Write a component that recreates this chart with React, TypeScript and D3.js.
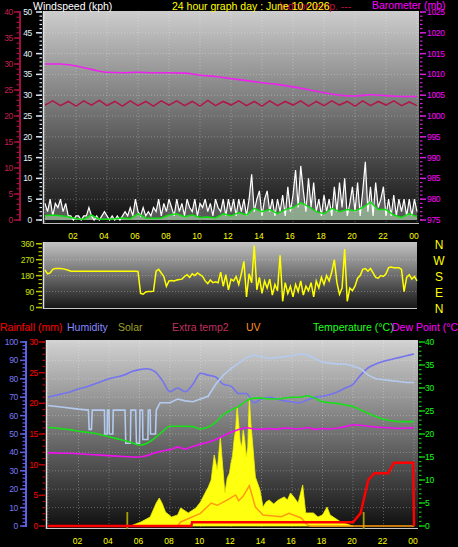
import React from "react";
import * as d3 from "d3";

// ---------- DATA ----------
const xTickHours = [2, 4, 6, 8, 10, 12, 14, 16, 18, 20, 22, 24];
const xTickLabels = ["02", "04", "06", "08", "10", "12", "14", "16", "18", "20", "22", "00"];
const dirLabels = ["N", "W", "S", "E", "N"];

// wind gust, 10-minute samples (kph)
const windGust = [4,2,5,1,4,3,5,2,4,1,
  1,0,1,1,0,1,1,
  3,
  1,0,1,0,1,2,1,0,1,0,1,0,1,
  2,1,3,1,5,2,1,3,1,2,1,3,
  2,5,1,4,2,5,3,1,5,2,4,1,5,3,2,5,1,4,3,5,2,4,1,5,3,2,
  5,1,5,2,5,1,5,2,5,1,5,
  11,
  2,5,7,1,5,7,2,5,1,5,2,6,1,
  8,2,6,12,3,13,7,2,10,3,9,2,
  5,1,6,2,5,1,
  8,2,9,3,10,1,4,8,2,9,1,7,14,2,8,1,9,3,5,8,1,
  5,1,6,1,5,2,5,1,5,1,5,2];

// average wind, half-hourly (kph)
const windAvg = [1.0,1.2,1.0,0.8,0.3,0.2,1.2,0.2,0.2,0.3,
  0.5,0.3,1.5,0.5,0.4,0.5,1.2,1.5,0.8,1.2,
  0.6,0.7,0.5,1.5,1.0,1.8,1.2,2.8,2.0,2.5,
  1.5,2.5,3.0,4.2,3.2,2.0,1.5,2.8,2.0,2.5,
  2.2,3.0,4.3,2.5,2.5,1.2,0.6,1.5,0.8];

// barometer, hourly (mb)
const barometer = [1012.5,1012.5,1012.0,1011.2,1010.5,1010.4,1010.5,1010.4,1010.4,1010.3,
  1009.8,1009.5,1009.0,1008.5,1008.0,1007.6,1007.0,1006.3,1005.6,1005.0,
  1004.8,1005.1,1004.9,1004.7,1004.7];

// extra temp2, half-hourly (°C)
const extraTemp2 = [22.1,22.9,22.0,22.8,21.9,22.9,22.1,23.0,22.0,22.8,
  21.9,22.9,22.0,22.8,21.9,22.9,22.1,22.9,22.0,22.8,
  21.9,23.0,22.0,22.8,22.1,22.9,22.0,22.8,21.9,22.9,
  22.0,22.8,22.1,22.9,21.9,22.8,22.0,22.9,22.1,22.8,
  21.9,22.9,22.0,22.8,22.1,22.9,22.0,22.7,22.0];

// wind direction, 10-minute samples (deg)
const windDir = [212,190,195,215,
  220,220,220,218,215,210,
  205,205,205,205,205,205,205,205,205,205,205,205,205,205,205,205,205,205,205,205,205,205,205,205,205,205,
  203,
  80,
  75,88,90,90,
  92,205,215,195,175,120,
  150,152,150,155,158,160,
  175,185,170,190,180,195,185,175,
  150,135,155,140,145,140,
  200,120,185,100,160,150,175,130,190,
  260,60,190,140,350,100,170,80,150,110,160,70,130,95,295,35,140,80,120,60,
  130,90,150,70,120,95,140,60,150,110,170,130,180,150,200,270,140,75,110,330,
  35,110,95,120,165,180,215,220,205,220,195,170,165,180,175,190,225,228,225,225,
  225,215,90,170,185,160,175,150];

// humidity, half-hourly (%)
const humidity = [70,71,72,73,74.5,75.5,77,78.5,80,81,
  82,84,85,85.5,84,79,73,75,73,77,
  83,82,81,77,76,72,72,67,69,70,
  69,68,67.5,67,68.5,70,70.5,71.5,73,75,
  77,82,86,88,89.5,90.5,91.5,92.5,93.5];

// second humidity trace (%), irregular times
const humidity2Hours = [0,1,2,2.65,2.7,2.85,2.9,3.7,3.72,3.88,3.9,4.0,4.02,4.25,4.28,5.05,5.1,5.4,5.43,5.75,5.8,6.0,6.03,6.2,6.22,6.55,6.58,6.7,6.72,7.05,7.1,7.35,8,8.5,9,9.5,10,10.5,11,11.5,12,12.5,13,13.5,14,14.5,15,15.5,16,16.5,17,17.5,18,18.5,19,19.5,20,20.5,21,21.5,22,22.5,23,23.5,24];
const humidity2Values = [65.5,64.5,63.5,63,52.5,52.5,63,63,50,50,63,63,50,50,63,63,45,45,63,63,45,45,63,63,47,47,63,63,50,50,63,67,67,69,68,67.5,69,70.5,77,82,85.5,88.5,91.5,93,92,91,91.5,92,92.5,93.5,93,91,89,88.5,88,88,87,85.5,82,80,79.5,79,78.5,78,78];

// temperature, half-hourly (°C)
const temperature = [21.4,21.3,21.1,20.9,20.6,20.4,20.2,19.8,19.4,19.0,
  18.6,18.1,17.6,18.0,19.1,20.5,21.7,21.7,21.7,21.6,
  21.1,21.5,22.6,24.2,25.2,26,27.2,27.8,27.8,27.6,
  27.6,27.8,28.0,28.0,28.3,27.8,27.0,26.8,26.6,26.3,
  26.0,25.2,24.5,23.8,23.2,22.9,22.7,22.7,22.7];

// dew point, half-hourly (°C)
const dewPoint = [15.9,15.9,15.8,15.8,15.7,15.6,15.5,15.4,15.3,15.2,
  15.1,15.0,15.0,15.3,15.9,16.3,16.6,17.2,16.7,17.3,
  17.8,18.2,18.8,19.6,20.4,21.0,21.4,21.1,21.0,21.2,
  21.0,21.3,21.2,21.1,21.4,21.0,21.2,21.1,21.3,21.6,
  22.0,21.9,21.7,21.5,21.4,21.3,21.2,21.3,21.3];

// rainfall (mm)
const rainHours = [0,9.4,9.45,20.0,20.5,21.0,21.4,22.3,22.7,23.95,24];
const rainValues = [0,0,0.6,0.6,2.1,7.5,8.6,8.6,10.3,10.3,0];

// solar (W/m²)
const solarHours = [5.4,6.1,6.7,7.1,7.3,7.5,7.7,8.1,8.5,8.7,9.2,9.7,10.0,10.3,10.5,10.7,10.9,11.1,11.3,11.45,11.6,11.75,11.9,12.0,12.1,12.2,12.3,12.4,12.5,12.6,12.7,12.8,12.9,13.0,13.1,13.2,13.3,13.4,13.6,13.9,14.1,14.3,14.5,14.8,15.1,15.3,15.5,15.7,15.9,16.1,16.4,16.7,16.9,17.4,17.7,18.0,18.3,18.5,19.2,19.8,20.0];
const solarValues = [0,22,49,125,152,120,76,49,60,98,71,98,130,179,210,250,386,304,484,330,179,260,288,342,380,467,520,647,560,460,430,522,470,375,430,701,560,467,266,196,103,130,141,120,141,150,158,141,179,160,125,223,71,71,49,60,103,60,22,5,0];

// UV index
const uvHours = [8.5,8.7,10.0,10.7,11.1,11.8,12.3,12.5,12.8,13.2,13.6,14.1,15.3,15.8,16.6,17.0,17.2,24];
const uvValues = [0,0.35,1.1,2.0,1.8,2.3,2.7,2.2,2.6,3.5,1.65,0.96,0.8,1.1,0.7,0.1,0,0];

// sunrise / sunset markers (hours)
const sunMarks = [5.2, 20.7];

// ---------- HELPERS ----------
const FONT = "'Liberation Sans', Arial, sans-serif";
const idxHours = (arr: number[]) => arr.map((_, i) => (i * 24) / (arr.length - 1));

type AxisProps = {
  scale: d3.ScaleLinear<number, number>;
  x: number; dir: number; minor: number; major: number;
  color: string; labelColor: string; line?: boolean; labelX: number; anchor: string;
  dotted?: boolean;
};
function VAxis({ scale, x, dir, minor, major, color, labelColor, line, labelX, anchor, dotted }: AxisProps) {
  const [d0, d1] = scale.domain();
  const minors = d3.range(d0, d1 + 1e-6, minor);
  const majors = d3.range(d0, d1 + 1e-6, major);
  return (
    <g>
      {line && <line x1={x} x2={x} y1={scale(d0) + 1} y2={scale(d1) - 1} stroke={color} strokeWidth={2} />}
      {minors.map((v, i) => (
        <line key={"m" + i} x1={x} x2={x + dir * (dotted ? 2.5 : 3.5)} y1={scale(v)} y2={scale(v)} stroke={color} strokeWidth={1.2} />
      ))}
      {majors.map((v, i) => (
        <g key={"M" + i}>
          <line x1={x} x2={x + dir * 6} y1={scale(v)} y2={scale(v)} stroke={color} strokeWidth={1.5} />
          <text x={labelX} y={scale(v) + 3} fill={labelColor} fontSize={8.5} fontFamily={FONT} textAnchor={anchor} letterSpacing={-0.3}>{v}</text>
        </g>
      ))}
    </g>
  );
}

export default function App() {
  const xTop = d3.scaleLinear().domain([0, 24]).range([45, 417]);
  const xBot = d3.scaleLinear().domain([0, 24]).range([48, 414]);
  const yWind = d3.scaleLinear().domain([0, 50]).range([220, 12]);
  const yET2 = d3.scaleLinear().domain([0, 40]).range([220, 12]);
  const yBaro = d3.scaleLinear().domain([975, 1025]).range([220, 12]);
  const yDir = d3.scaleLinear().domain([0, 360]).range([307.5, 243.7]);
  const yHum = d3.scaleLinear().domain([0, 100]).range([526, 342]);
  const yRain = d3.scaleLinear().domain([0, 30]).range([526, 342]);
  const yTemp = d3.scaleLinear().domain([0, 40]).range([526, 342]);
  const ySolar = d3.scaleLinear().domain([0, 1000]).range([526, 342]);
  const yUV = d3.scaleLinear().domain([0, 16]).range([526, 342]);

  const mk = (xs: d3.ScaleLinear<number, number>, ys: d3.ScaleLinear<number, number>, hrs: number[], vals: number[]) =>
    d3.line<number>().x((_, i) => xs(hrs[i])).y((v) => ys(v))(vals) || "";

  const gustH = idxHours(windGust);
  const gustPath = mk(xTop, yWind, gustH, windGust);
  const gustArea = d3.area<number>().x((_, i) => xTop(gustH[i])).y0(yWind(0)).y1((v) => yWind(v))(windGust) || "";
  const avgPath = mk(xTop, yWind, idxHours(windAvg), windAvg);
  const avgH = idxHours(windAvg);
  const avgArea = d3.area<number>().x((_, i) => xTop(avgH[i])).y0(yWind(0)).y1((v) => yWind(v))(windAvg) || "";
  const baroPath = d3.line<number>().x((_, i) => xTop(idxHours(barometer)[i])).y((v) => yBaro(v)).curve(d3.curveMonotoneX)(barometer) || "";
  const et2Path = mk(xTop, yET2, idxHours(extraTemp2), extraTemp2);
  const dirPath = mk(xTop, yDir, idxHours(windDir), windDir);

  const humPath = d3.line<number>().x((_, i) => xBot(idxHours(humidity)[i])).y((v) => yHum(v)).curve(d3.curveMonotoneX)(humidity) || "";
  const hum2Path = mk(xBot, yHum, humidity2Hours, humidity2Values);
  const tempPath = d3.line<number>().x((_, i) => xBot(idxHours(temperature)[i])).y((v) => yTemp(v)).curve(d3.curveMonotoneX)(temperature) || "";
  const dewPath = mk(xBot, yTemp, idxHours(dewPoint), dewPoint);
  const rainPath = mk(xBot, yRain, rainHours, rainValues);
  const solarArea = d3.area<number>().x((_, i) => xBot(solarHours[i])).y0(ySolar(0)).y1((v) => ySolar(v))(solarValues) || "";
  const uvPath = mk(xBot, yUV, uvHours, uvValues);

  const gridStyle = { stroke: "#ffffff", strokeOpacity: 0.28, strokeDasharray: "1 2", strokeWidth: 1 };

  return (
    <svg width={458} height={547} style={{ position: "absolute", left: 0, top: 0, background: "#000" }}>
      <defs>
        <linearGradient id="gTop" x1="0" y1="0" x2="0" y2="1">
          <stop offset="0" stopColor="#cdcdcd" />
          <stop offset="1" stopColor="#0e0e0e" />
        </linearGradient>
        <linearGradient id="gMid" x1="0" y1="0" x2="0" y2="1">
          <stop offset="0" stopColor="#c4c4c4" />
          <stop offset="1" stopColor="#141414" />
        </linearGradient>
        <linearGradient id="gBot" x1="0" y1="0" x2="0" y2="1">
          <stop offset="0" stopColor="#d2d2d2" />
          <stop offset="1" stopColor="#0e0e0e" />
        </linearGradient>
      </defs>
      <rect x={0} y={0} width={458} height={547} fill="#000" />

      {/* ---------- TOP PANEL ---------- */}
      <rect x={43} y={11} width={376} height={213} fill="url(#gTop)" />
      {d3.range(5, 50, 5).map((v) => (
        <line key={"th" + v} x1={43} x2={419} y1={yWind(v)} y2={yWind(v)} {...gridStyle} />
      ))}
      {d3.range(0, 25, 2).map((h) => (
        <line key={"tv" + h} x1={xTop(h)} x2={xTop(h)} y1={11} y2={224} {...gridStyle} />
      ))}
      <line x1={43.5} x2={43.5} y1={11} y2={224} stroke="#e0e0e0" strokeWidth={1.5} />
      <line x1={43} x2={419} y1={223.5} y2={223.5} stroke="#bdbdbd" strokeWidth={1} />

      <path d={baroPath} fill="none" stroke="#ee22ee" strokeWidth={1.6} />
      <path d={et2Path} fill="none" stroke="#b01848" strokeWidth={1.6} />
      <path d={gustArea} fill="#d8d8d8" fillOpacity={0.35} />
      <path d={avgArea} fill="#b8e8b8" fillOpacity={0.55} />
      <path d={gustPath} fill="none" stroke="#ffffff" strokeWidth={1.2} />
      <path d={avgPath} fill="none" stroke="#10e010" strokeWidth={1.5} />

      <VAxis scale={yET2} x={20} dir={-1} minor={1} major={5} color="#a01040" labelColor="#c02050" line labelX={13} anchor="end" />
      <VAxis scale={yWind} x={42} dir={-1} minor={1} major={5} color="#d8e8f8" labelColor="#e4f2ff" labelX={32} anchor="end" dotted />
      <VAxis scale={yBaro} x={420} dir={1} minor={1} major={5} color="#d020d0" labelColor="#ff00ff" labelX={427} anchor="start" dotted />

      <text x={33} y={10} fill="#ffffff" fontSize={10.5} fontFamily={FONT}>Windspeed (kph)</text>
      <text x={279} y={10} fill="#c01040" fontSize={10.5} fontFamily={FONT}>Indoor temp. ---</text>
      <text x={172} y={10} fill="#ffff00" fontSize={10.5} fontFamily={FONT}>24 hour graph day : June 10 2026</text>
      <text x={372} y={9} fill="#ff00ff" fontSize={10.5} fontFamily={FONT}>Barometer (mb)</text>

      {xTickHours.map((h, i) => (
        <text key={"xt" + h} x={xTop(h) - 3} y={239} fill="#ffff00" fontSize={8.5} fontFamily={FONT} textAnchor="middle">{xTickLabels[i]}</text>
      ))}

      {/* ---------- MIDDLE PANEL ---------- */}
      <rect x={43} y={242} width={374} height={67} fill="url(#gMid)" />
      {[90, 180, 270].map((v) => (
        <line key={"mh" + v} x1={43} x2={417} y1={yDir(v)} y2={yDir(v)} {...gridStyle} />
      ))}
      <line x1={43.5} x2={43.5} y1={242} y2={309} stroke="#e0e0e0" strokeWidth={1.5} />
      <line x1={43} x2={417} y1={308.5} y2={308.5} stroke="#c8c8c8" strokeWidth={1} />
      <path d={dirPath} fill="none" stroke="#ffff00" strokeWidth={1.5} />
      <VAxis scale={yDir} x={42} dir={-1} minor={22.5} major={90} color="#b8c800" labelColor="#c8e000" labelX={34} anchor="end" />
      {dirLabels.map((t, i) => (
        <text key={"nw" + i} x={439} y={yDir(360 - i * 90) + 5} fill="#ffff00" fontSize={12} fontFamily={FONT} textAnchor="middle">{t}</text>
      ))}

      {/* ---------- BOTTOM PANEL ---------- */}
      <text x={0} y={331} fill="#ff0000" fontSize={10.5} fontFamily={FONT}>Rainfall (mm)</text>
      <text x={67} y={331} fill="#8888ff" fontSize={10.5} fontFamily={FONT}>Humidity</text>
      <text x={118} y={331} fill="#a0a028" fontSize={10.5} fontFamily={FONT}>Solar</text>
      <text x={172} y={331} fill="#c03060" fontSize={10.5} fontFamily={FONT}>Extra temp2</text>
      <text x={246} y={331} fill="#ff9020" fontSize={10.5} fontFamily={FONT}>UV</text>
      <text x={313} y={331} fill="#20ff20" fontSize={10.5} fontFamily={FONT}>Temperature (°C)</text>
      <text x={392} y={331} fill="#ff00ff" fontSize={10.5} fontFamily={FONT}>Dew Point (°C)</text>

      <rect x={46} y={340} width={372} height={189} fill="url(#gBot)" />
      {d3.range(10, 101, 10).map((v) => (
        <line key={"bh" + v} x1={46} x2={418} y1={yHum(v)} y2={yHum(v)} {...gridStyle} />
      ))}
      {d3.range(0, 25, 2).map((h) => (
        <line key={"bv" + h} x1={xBot(h)} x2={xBot(h)} y1={340} y2={529} {...gridStyle} />
      ))}
      <line x1={46.5} x2={46.5} y1={340} y2={529} stroke="#e0e0e0" strokeWidth={1.5} />
      <line x1={46} x2={418} y1={528.5} y2={528.5} stroke="#c8c8c8" strokeWidth={1} />

      <path d={solarArea} fill="#ffff10" stroke="#f0f000" strokeWidth={0.8} />
      {sunMarks.map((h, i) => (
        <line key={"sun" + i} x1={xBot(h)} x2={xBot(h)} y1={512} y2={529} stroke="#a8a000" strokeWidth={1.8} />
      ))}
      <path d={humPath} fill="none" stroke="#7474f0" strokeWidth={1.6} />
      <path d={hum2Path} fill="none" stroke="#b4cbef" strokeWidth={1.6} />
      <path d={tempPath} fill="none" stroke="#18e018" strokeWidth={1.6} />
      <path d={dewPath} fill="none" stroke="#ee10ee" strokeWidth={1.6} />
      <path d={uvPath} fill="none" stroke="#ff9a10" strokeWidth={1.5} />
      <path d={rainPath} fill="none" stroke="#ff0000" strokeWidth={2.5} />

      <VAxis scale={yHum} x={26} dir={-1} minor={2} major={10} color="#6060e0" labelColor="#7878f0" line labelX={18} anchor="end" />
      <VAxis scale={yRain} x={45} dir={-1} minor={1} major={5} color="#c00000" labelColor="#ff0000" labelX={38} anchor="end" dotted />
      <VAxis scale={yTemp} x={419} dir={1} minor={1} major={5} color="#10c010" labelColor="#10ff10" labelX={425} anchor="start" dotted />

      {xTickHours.map((h, i) => (
        <text key={"xb" + h} x={xBot(h) - 1} y={544} fill="#ffff00" fontSize={8.5} fontFamily={FONT} textAnchor="middle">{xTickLabels[i]}</text>
      ))}
    </svg>
  );
}
